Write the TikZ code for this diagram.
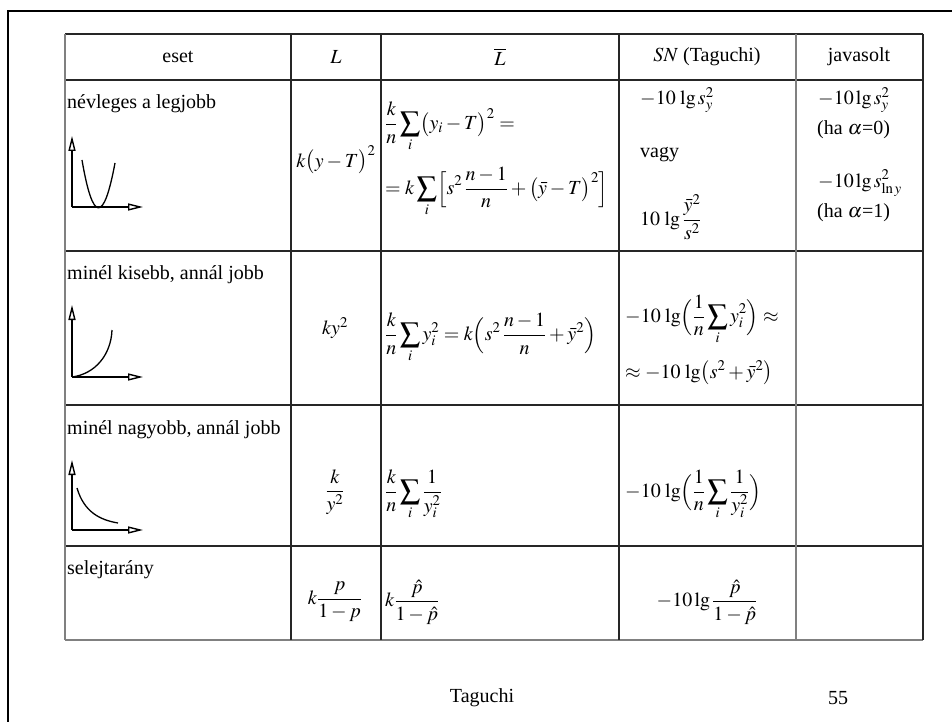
\documentclass[tikz,border=0pt]{standalone}
\usepackage{amsmath}
\usepackage{mathptmx}
\usepackage[no-math]{fontspec}
\setmainfont{Liberation Serif}
\usetikzlibrary{arrows.meta}
\tikzset{
  txt/.style={inner sep=0pt, font=\fontsize{20}{24}\selectfont},
  lft/.style={txt, anchor=west},
  grid/.style={line width=1.3pt, black!85},
  gridgray/.style={line width=1.8pt, black!50},
  frame/.style={line width=2.6pt, black},
  axis/.style={line width=1.8pt, -{Triangle[open, width=7pt, length=15pt, line width=1.4pt]}},
  curve/.style={line width=1.3pt},
}
\begin{document}
\begin{tikzpicture}[x=1pt,y=-1pt]
\useasboundingbox (0,0) rectangle (952,722);
% frame
\draw[frame] (952,11) -- (8,11) -- (8,722);
% table grid
\draw[grid] (65,34) -- (923,34);
\draw[grid] (65,80) -- (923,80);
\draw[grid] (65,251) -- (923,251);
\draw[grid] (65,405) -- (923,405);
\draw[grid] (65,546) -- (923,546);
\draw[gridgray] (65,640) -- (923,640);
\draw[gridgray] (65,34) -- (65,640);
\draw[grid] (291,34) -- (291,640);
\draw[grid] (381,34) -- (381,640);
\draw[grid] (619,34) -- (619,640);
\draw[gridgray] (796,34) -- (796,640);
\draw[grid] (923,34) -- (923,640);
% header
\node[txt] (h1) at (178,57) {eset};
\node[txt] (h2) at (336,57) {$L$};
\node[txt] (h3) at (500,57) {$\overline{L}$};
\node[txt] (h4) at (707,57) {$SN$ (Taguchi)};
\node[txt] (h5) at (859,57) {javasolt};
% row 1
\node[lft] (r1a) at (67,104) {névleges a legjobb};
\draw[axis] (72,207) -- (72,136);
\draw[axis] (72,207) -- (143,207);
\draw[curve] (82,160) .. controls (92.7,222.7) and (103.7,223.7) .. (115,163);
\node[txt] (r1L) at (336,160) {$k\bigl(y-T\bigr)^2$};
\node[lft] (r1B1) at (385,127) {$\displaystyle\frac{k}{n}\sum_i \bigl(y_i - T\bigr)^2 =$};
\node[lft] (r1B2) at (385,192) {$\displaystyle= k\sum_i \Bigl[ s^2\,\frac{n-1}{n} + \bigl(\bar{y}-T\bigr)^2 \Bigr]$};
\node[lft] (r1S1) at (640,100) {$-10\,\lg s_y^2$};
\node[lft] (r1S2) at (640,155) {vagy};
\node[lft] (r1S3) at (640,217) {$\displaystyle 10\,\lg\frac{\bar{y}^2}{s^2}$};
\node[lft] (r1J1) at (818,100) {$-10\lg s_y^2$};
\node[lft] (r1J2) at (817,130) {(ha $\alpha$=0)};
\node[lft] (r1J3) at (818,183) {$-10\lg s^2_{\ln y}$};
\node[lft] (r1J4) at (817,213) {(ha $\alpha$=1)};
% row 2
\node[lft] (r2a) at (67,275) {minél kisebb, annál jobb};
\draw[axis] (72,377) -- (72,305);
\draw[axis] (72,377) -- (143,377);
\draw[curve] (72,377) .. controls (95,374) and (111,355) .. (112,330);
\node[txt] (r2L) at (335,328) {$ky^2$};
\node[lft] (r2B) at (385,338) {$\displaystyle\frac{k}{n}\sum_i y_i^2 = k\Bigl(s^2\,\frac{n-1}{n}+\bar{y}^2\Bigr)$};
\node[lft] (r2S1) at (625,320) {$\displaystyle-10\,\lg\Bigl(\frac{1}{n}\sum_i y_i^2\Bigr)\approx$};
\node[lft] (r2S2) at (625,373) {$\approx -10\,\lg\bigl(s^2+\bar{y}^2\bigr)$};
% row 3
\node[lft] (r3a) at (67,430) {minél nagyobb, annál jobb};
\draw[axis] (72,530) -- (72,460);
\draw[axis] (72,530) -- (143,530);
\draw[curve] (77,488) .. controls (84,512) and (100,520) .. (118,523);
\node[txt] (r3L) at (335,492) {$\displaystyle\frac{k}{y^2}$};
\node[lft] (r3B) at (385,495) {$\displaystyle\frac{k}{n}\sum_i\frac{1}{y_i^2}$};
\node[lft] (r3S) at (625,495) {$\displaystyle-10\,\lg\Bigl(\frac{1}{n}\sum_i\frac{1}{y_i^2}\Bigr)$};
% row 4
\node[lft] (r4a) at (67,570) {selejtarány};
\node[txt] (r4L) at (335,602) {$\displaystyle k\frac{p}{1-p}$};
\node[lft] (r4B) at (385,602) {$\displaystyle k\frac{\hat{p}}{1-\hat{p}}$};
\node[txt] (r4S) at (707,602) {$\displaystyle-10\lg\frac{\hat{p}}{1-\hat{p}}$};
% footer
\node[txt] (f1) at (482,698) {Taguchi};
\node[txt] (f2) at (838,698) {55};
\end{tikzpicture}
\end{document}
